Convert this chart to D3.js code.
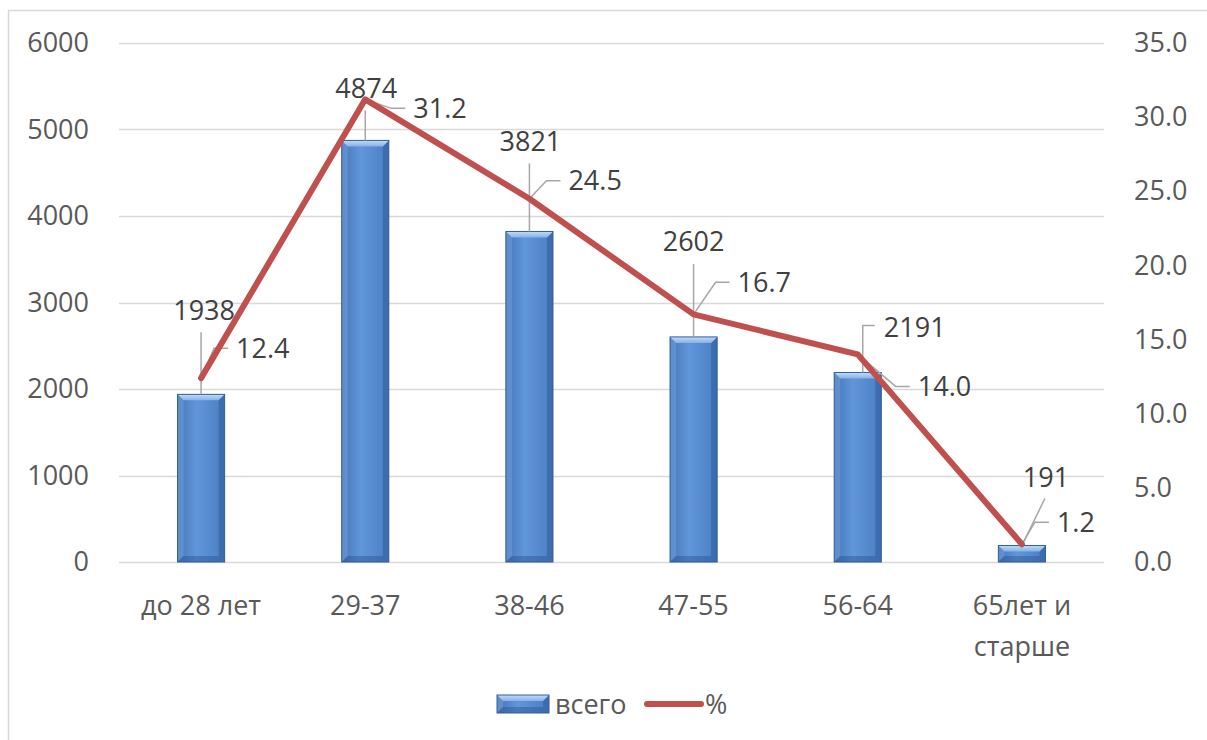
<!DOCTYPE html>
<html>
<head>
<meta charset="utf-8">
<script src="https://cdn.jsdelivr.net/npm/d3@7"></script>
<style>
  body { margin: 0; background: #fff; }
  svg { display: block; font-family: "Open Sans", sans-serif; }
</style>
</head>
<body>
<svg width="1207" height="740"></svg>
<script>
// chart data
const categories = ['до 28 лет', '29-37', '38-46', '47-55', '56-64', '65лет и\nстарше']
const totals = [1938, 4874, 3821, 2602, 2191, 191]
const percents = [12.4, 31.2, 24.5, 16.7, 14.0, 1.2]
const leftTicks = [0, 1000, 2000, 3000, 4000, 5000, 6000]
const rightTicks = [0, 5, 10, 15, 20, 25, 30, 35]

// label nudges (dx, dy) relative to bar top / line point
const totalLabelOffsets = [[3, -84], [1, -52], [1, -90], [0, -95], [57, -45], [24, -68]]
const pctLabelOffsets = [[35, -30], [48, 9], [39, -18], [44, -32], [60, 32], [35, -22]]

const svg = d3.select('svg')
const textColor = '#595959'
const labelColor = '#404040'

const x = d3.scaleBand().domain(categories).range([119, 1104])
const yLeft = d3.scaleLinear().domain([0, 6000]).range([562, 43])
const yRight = d3.scaleLinear().domain([0, 35]).range([562, 43])
const barW = x.bandwidth() * 0.287
const cx = c => x(c) + x.bandwidth() / 2

// chart frame (left and top edges visible)
svg.append('path')
  .attr('d', 'M8.5,740 V10.5 H1207')
  .attr('fill', 'none')
  .attr('stroke', '#d9d9d9')
  .attr('stroke-width', 1.5)

// gradients for bars
const defs = svg.append('defs')
const g1 = defs.append('linearGradient').attr('id', 'barGrad').attr('x1', 0).attr('x2', 1).attr('y1', 0).attr('y2', 0)
g1.append('stop').attr('offset', '0%').attr('stop-color', '#4676b8')
g1.append('stop').attr('offset', '40%').attr('stop-color', '#6096da')
g1.append('stop').attr('offset', '100%').attr('stop-color', '#4a7ec4')
const g2 = defs.append('linearGradient').attr('id', 'topGrad').attr('x1', 0).attr('x2', 0).attr('y1', 0).attr('y2', 1)
g2.append('stop').attr('offset', '0%').attr('stop-color', '#c2dbf7')
g2.append('stop').attr('offset', '100%').attr('stop-color', '#86b2e8')

// gridlines
svg.append('g')
  .selectAll('line')
  .data(leftTicks)
  .join('line')
    .attr('x1', 119)
    .attr('x2', 1104)
    .attr('y1', d => Math.round(yLeft(d)) + 0.5)
    .attr('y2', d => Math.round(yLeft(d)) + 0.5)
    .attr('stroke', '#d9d9d9')
    .attr('stroke-width', 1.5)

// left axis
const axisLeft = svg.append('g')
  .attr('transform', 'translate(119,0)')
  .call(d3.axisLeft(yLeft).tickValues(leftTicks).tickSize(0).tickPadding(30).tickFormat(d3.format('d')))
axisLeft.select('.domain').remove()
axisLeft.selectAll('text')
  .attr('fill', textColor)
  .style('font-size', '27px')
  .style('font-family', '"Open Sans", sans-serif')

// right axis
const axisRight = svg.append('g')
  .attr('transform', 'translate(1104,0)')
  .call(d3.axisRight(yRight).tickValues(rightTicks).tickSize(0).tickPadding(30).tickFormat(d3.format('.1f')))
axisRight.select('.domain').remove()
axisRight.selectAll('text')
  .attr('fill', textColor)
  .style('font-size', '27px')
  .style('font-family', '"Open Sans", sans-serif')

// category labels
const catG = svg.append('g')
categories.forEach(c => {
  const lines = c.split('\n')
  const t = catG.append('text')
    .attr('x', cx(c))
    .attr('y', 615)
    .attr('text-anchor', 'middle')
    .attr('fill', textColor)
    .style('font-size', '27px')
  lines.forEach((ln, i) => {
    t.append('tspan').attr('x', cx(c)).attr('dy', i === 0 ? 0 : 41).text(ln)
  })
})

// bars with a soft bevel
function drawBevelBar(target, x0, y0, w, h) {
  const g = target.append('g')
  g.append('rect')
    .attr('x', x0).attr('y', y0).attr('width', w).attr('height', h)
    .attr('fill', 'url(#barGrad)')
  const b = Math.min(6, h / 2, w / 4)
  // left bevel
  g.append('path')
    .attr('d', `M${x0},${y0} L${x0 + b},${y0 + b} V${y0 + h - b} L${x0},${y0 + h} Z`)
    .attr('fill', '#7aa7e0').attr('opacity', 0.45)
  // right bevel
  g.append('path')
    .attr('d', `M${x0 + w},${y0} L${x0 + w - b},${y0 + b} V${y0 + h - b} L${x0 + w},${y0 + h} Z`)
    .attr('fill', '#2b5592').attr('opacity', 0.45)
  // bottom bevel
  g.append('path')
    .attr('d', `M${x0},${y0 + h} H${x0 + w} L${x0 + w - b},${y0 + h - b} H${x0 + b} Z`)
    .attr('fill', '#2b5592').attr('opacity', 0.45)
  // top bevel (light)
  g.append('path')
    .attr('d', `M${x0},${y0} H${x0 + w} L${x0 + w - b},${y0 + b} H${x0 + b} Z`)
    .attr('fill', 'url(#topGrad)')
  g.append('rect')
    .attr('x', x0).attr('y', y0).attr('width', w).attr('height', h)
    .attr('fill', 'none')
    .attr('stroke', '#345f97')
    .attr('stroke-width', 1)
  return g
}

const barsG = svg.append('g')
categories.forEach((c, i) => {
  const top = yLeft(totals[i])
  drawBevelBar(barsG, cx(c) - barW / 2, top, barW, yLeft(0) - top)
})

// leader lines + total labels
const leaderG = svg.append('g')
  .attr('fill', 'none')
  .attr('stroke', '#a6a6a6')
  .attr('stroke-width', 1.5)
const labelG = svg.append('g')

categories.forEach((c, i) => {
  const bx = cx(c)
  const by = yLeft(totals[i])
  const [dx, dy] = totalLabelOffsets[i]
  const lx = bx + dx
  const ly = by + dy
  labelG.append('text')
    .attr('x', lx).attr('y', ly)
    .attr('dy', '0.35em')
    .attr('text-anchor', 'middle')
    .attr('fill', labelColor)
    .style('font-size', '27px')
    .text(totals[i])
  // leader line from bar top to label
  let d
  if (Math.abs(dx) < 6) {
    d = `M${bx},${by} V${ly + 22}`
  } else if (dx > 40) {
    const ex = lx - 52
    d = `M${bx + 5},${by} V${ly - 2} H${ex + 12}`
  } else {
    d = `M${bx},${by} L${lx - 1},${ly + 21}`
  }
  leaderG.append('path').attr('d', d)
})

// percent line
const line = d3.line()
  .x((d, i) => cx(categories[i]))
  .y(d => yRight(d))

svg.append('path')
  .datum(percents)
  .attr('d', line)
  .attr('fill', 'none')
  .attr('stroke', '#c0504d')
  .attr('stroke-width', 6)
  .attr('stroke-linejoin', 'round')
  .attr('stroke-linecap', 'round')

// percent labels with leaders
percents.forEach((p, i) => {
  const px = cx(categories[i])
  const py = yRight(p)
  const [dx, dy] = pctLabelOffsets[i]
  const lx = px + dx
  const ly = py + dy
  leaderG.append('path')
    .attr('d', `M${px},${py} L${lx - 22},${ly} H${lx - 8}`)
  labelG.append('text')
    .attr('x', lx).attr('y', ly)
    .attr('dy', '0.35em')
    .attr('fill', labelColor)
    .style('font-size', '27px')
    .text(p.toFixed(1))
})
labelG.raise()

// legend
const legend = svg.append('g')
drawBevelBar(legend, 497, 695, 52, 18)
legend.append('text')
  .attr('x', 555).attr('y', 705).attr('dy', '0.35em')
  .attr('fill', textColor)
  .style('font-size', '27px')
  .text('всего')
legend.append('line')
  .attr('x1', 647).attr('x2', 701)
  .attr('y1', 704).attr('y2', 704)
  .attr('stroke', '#c0504d')
  .attr('stroke-width', 6)
  .attr('stroke-linecap', 'round')
legend.append('text')
  .attr('x', 705).attr('y', 705).attr('dy', '0.35em')
  .attr('fill', textColor)
  .style('font-size', '27px')
  .text('%')
</script>
</body>
</html>
